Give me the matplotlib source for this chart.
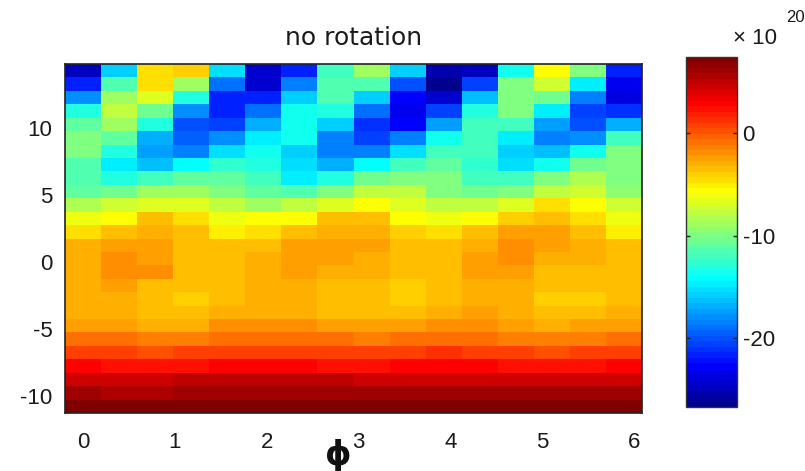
import numpy as np
import matplotlib
matplotlib.use("Agg")
import matplotlib.pyplot as plt
from matplotlib.colors import ListedColormap

plt.rcParams['axes.unicode_minus'] = False

# ---- data (values in units of 1e20), rows listed from top (y≈14) to bottom (y≈-11)
r00 = [-25.0, -16.0, -4.5, -4.1, -15.2, -24.1, -21.6, -12.2, -8.8, -16.0, -25.4, -24.6, -13.9, -5.4, -9.65, -21.6]
r01 = [-21.6, -11.35, -4.5, -8.8, -19.0, -24.1, -18.2, -11.35, -11.35, -19.9, -26.6, -20.7, -10.1, -7.1, -14.8, -23.3]
r02 = [-17.7, -8.8, -6.7, -13.1, -21.6, -21.6, -15.6, -11.35, -16.0, -22.9, -24.1, -16.5, -9.65, -10.5, -18.6, -23.7]
r03 = [-13.1, -7.9, -10.5, -17.7, -21.6, -19.0, -13.9, -13.1, -19.0, -23.3, -20.7, -13.1, -9.65, -14.8, -20.7, -21.2]
r04 = [-11.0, -8.8, -13.1, -19.9, -20.7, -16.9, -13.9, -15.6, -21.2, -22.9, -17.3, -11.8, -11.8, -17.3, -20.3, -16.9]
r05 = [-9.65, -10.9, -16.9, -19.5, -17.7, -14.8, -13.9, -18.2, -20.7, -18.2, -13.9, -11.8, -14.8, -18.2, -17.7, -12.2]
r06 = [-10.1, -13.1, -17.3, -18.2, -15.2, -13.9, -15.6, -18.6, -18.2, -15.2, -11.8, -11.8, -15.6, -16.5, -13.9, -10.1]
r07 = [-11.35, -14.8, -16.5, -14.3, -12.6, -13.1, -15.2, -16.9, -14.3, -11.8, -10.9, -12.6, -15.2, -13.9, -10.5, -9.65]
r08 = [-11.35, -13.1, -12.2, -10.9, -10.9, -12.2, -14.8, -13.1, -10.5, -9.65, -10.1, -12.2, -11.8, -10.1, -8.4, -9.65]
r09 = [-10.9, -10.5, -8.8, -8.8, -9.65, -10.9, -11.35, -10.1, -7.9, -7.9, -9.65, -10.5, -10.1, -7.9, -7.1, -9.2]
r10 = [-8.4, -7.5, -6.7, -6.7, -7.9, -8.8, -7.9, -6.7, -5.4, -6.7, -7.9, -7.9, -6.7, -4.5, -5.4, -7.5]
r11 = [-6.2, -5.4, -3.7, -4.5, -6.2, -5.8, -5.4, -3.3, -3.3, -5.4, -6.2, -5.4, -4.1, -3.3, -4.5, -6.2]
r12 = [-4.5, -3.3, -2.8, -3.7, -5.0, -4.4, -3.3, -2.8, -2.8, -4.0, -4.5, -3.7, -2.5, -2.7, -3.6, -4.9]
r13 = [-2.8, -2.4, -2.4, -3.3, -3.7, -3.3, -2.4, -2.4, -2.7, -3.5, -3.5, -2.8, -2.15, -2.7, -3.0, -3.7]
r14 = [-2.8, -1.8, -2.4, -3.3, -3.7, -2.8, -2.4, -2.4, -3.0, -3.5, -3.5, -2.7, -2.15, -2.8, -3.0, -3.5]
r15 = [-2.8, -2.15, -2.15, -3.3, -3.7, -2.8, -2.7, -2.8, -3.0, -3.5, -3.5, -2.7, -2.7, -3.3, -3.5, -3.5]
r16 = [-2.8, -2.4, -3.3, -3.5, -3.7, -2.8, -2.8, -3.3, -3.5, -4.1, -3.5, -3.0, -3.0, -3.5, -3.5, -3.5]
r17 = [-2.8, -2.8, -3.7, -4.3, -3.7, -2.8, -2.8, -3.3, -3.5, -4.1, -3.5, -3.0, -3.0, -3.85, -4.1, -3.5]
r18 = [-2.8, -2.8, -3.5, -3.5, -3.0, -2.8, -2.8, -3.3, -3.3, -3.3, -2.8, -2.7, -3.0, -3.5, -3.5, -3.0]
r19 = [-2.4, -2.4, -3.0, -3.0, -2.15, -1.8, -2.15, -2.4, -2.4, -2.4, -2.15, -2.15, -2.7, -3.0, -2.7, -2.4]
r20 = [-0.95, -1.1, -1.55, -1.55, -0.7, -0.7, -0.7, -1.1, -1.55, -0.95, -0.95, -0.95, -1.55, -1.55, -1.55, -1.1]
r21 = [1.0, 0.6, 0.15, 0.6, 1.0, 1.0, 1.0, 0.6, 0.6, 0.6, 1.3, 0.75, 0.75, 0.15, 0.6, 1.0]
r22 = [2.7, 2.3, 2.3, 2.45, 3.1, 3.1, 3.1, 2.45, 2.45, 2.7, 3.1, 2.7, 2.45, 2.3, 2.45, 2.7]
r23 = [4.4, 4.4, 4.4, 4.8, 4.8, 4.8, 4.8, 4.8, 4.7, 4.7, 4.7, 4.7, 4.25, 4.25, 4.7, 4.7]
r24 = [6.1, 5.7, 5.7, 6.1, 6.1, 6.1, 6.1, 6.1, 6.1, 6.1, 6.1, 6.1, 6.1, 6.1, 6.1, 6.1]
r25 = [7.4, 7.0, 7.4, 7.4, 7.4, 7.4, 7.4, 7.4, 7.4, 7.4, 7.4, 7.4, 7.4, 7.4, 7.4, 7.4]

n_phi = 16
n_rows = 26
y_top, y_bottom = 14.3, -10.8
phi_ticks = [0, 1, 2, 3, 4, 5, 6]
y_ticks = [-10, -5, 0, 5, 10]
cbar_ticks = [-20, -10, 0]
clim = (-26.7, 7.4)

Z = np.array([r00, r01, r02, r03, r04, r05, r06, r07, r08, r09, r10, r11, r12,
              r13, r14, r15, r16, r17, r18, r19, r20, r21, r22, r23, r24, r25])
phi = np.arange(n_phi) * 2 * np.pi / n_phi
yc = np.linspace(y_top, y_bottom, n_rows)

# ---- MATLAB jet(64)
def matlab_jet(m=64):
    n = int(np.ceil(m / 4))
    u = np.concatenate([np.arange(1, n + 1) / n, np.ones(n - 1), np.arange(n, 0, -1) / n])
    g = int(np.ceil(n / 2)) - (1 if m % 4 == 1 else 0) + np.arange(1, len(u) + 1)
    r = g + n
    b = g - n
    J = np.zeros((m, 3))
    k = r <= m; J[r[k] - 1, 0] = u[k]
    k = (g <= m) & (g >= 1); J[g[k] - 1, 1] = u[k]
    k = b >= 1; J[b[k] - 1, 2] = u[k]
    return ListedColormap(J)

cmap = matlab_jet(64)

fig = plt.figure(figsize=(8.05, 4.71), dpi=100)
ax = fig.add_axes([65/805, 1-413/471, (642-65)/805, (413-64)/471])
mesh = ax.pcolormesh(phi, yc, Z, shading='nearest', cmap=cmap,
                     vmin=clim[0], vmax=clim[1], antialiased=False, edgecolors='none')
dphi = phi[1] - phi[0]
dy = abs(yc[1] - yc[0])
ax.set_xlim(phi[0] - dphi/2, phi[-1] + dphi/2)
ax.set_ylim(y_bottom - dy/2, y_top + dy/2)
ax.set_xticks(phi_ticks)
ax.set_yticks(y_ticks)
ax.tick_params(length=0, labelsize=16, colors='#1a1a1a', pad=9)
ax.tick_params(axis='x', pad=14)
for lab in ax.get_xticklabels() + ax.get_yticklabels():
    lab.set_fontfamily('Liberation Sans')
for s in ax.spines.values():
    s.set_linewidth(1.2)
    s.set_color('#222222')

ax.set_title('no rotation', fontsize=18, family='DejaVu Sans', color='#1a1a1a', pad=14)
fig.text(338/805, 1-455/471, 'ϕ', fontsize=24, family='DejaVu Sans', fontweight='bold',
         ha='center', va='center', color='#111111')

cax = fig.add_axes([686/805, 1-407/471, 51/805, (407-57)/471])
cb = fig.colorbar(mesh, cax=cax, ticks=cbar_ticks)
cb.outline.set_linewidth(1.0)
cb.outline.set_edgecolor('#333333')
cax.tick_params(direction='in', length=3, width=1, left=True, right=True,
                labelsize=16, pad=4, colors='#1a1a1a')
for lab in cax.get_yticklabels():
    lab.set_fontfamily('Liberation Sans')
cb.solids.set_antialiased(False)

fig.text(733/805, 1-38/471, '× 10', fontsize=16, family='Liberation Sans',
         ha='left', va='center', color='#1a1a1a')
fig.text(786/805, 1-17/471, '20', fontsize=12, family='Liberation Sans',
         ha='left', va='center', color='#1a1a1a')

fig.savefig('out.png', dpi=100)
